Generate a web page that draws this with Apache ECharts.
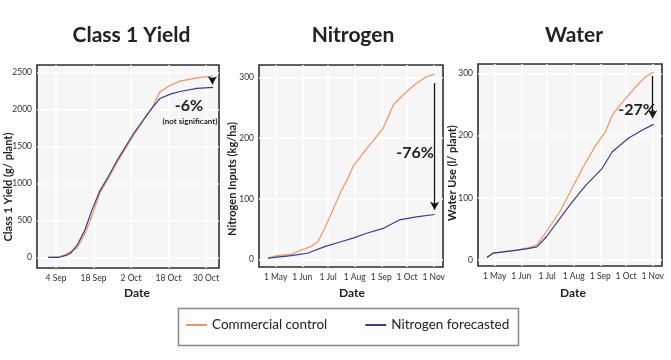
<!DOCTYPE html>
<html><head><meta charset="utf-8">
<script src="https://cdn.jsdelivr.net/npm/echarts@6/dist/echarts.min.js"></script>
<style>html,body{margin:0;padding:0;background:#fdfdfd}#c{width:671px;height:360px}</style>
</head><body><div id="c"></div>
<script>
// ---- Data ----
const seriesNames = ['Commercial control', 'Nitrogen forecasted'];
const panelTitles = ['Class 1 Yield', 'Nitrogen', 'Water'];
const yAxisNames = ['Class 1 Yield (g/ plant)', 'Nitrogen Inputs (kg/ha)', 'Water Use (l/ plant)'];

// Class 1 yield: x = sample position (ticks evenly spaced)
const yieldTickLabels = ['4 Sep', '18 Sep', '2 Oct', '18 Oct', '30 Oct'];
const yieldTickPos = [0, 1, 2, 3, 4];
const yieldX = [-0.21, 0.08, 0.27, 0.4, 0.56, 0.77, 0.96, 1.17, 1.39, 1.65, 2.05, 2.37, 2.56, 2.77, 3.05, 3.31, 3.76, 4.19];
const yieldCommercial = [0, 5, 40, 80, 125, 320, 560, 870, 1060, 1300, 1640, 1880, 2020, 2240, 2330, 2385, 2430, 2455];
const yieldForecast = [0, 0, 25, 60, 160, 370, 640, 900, 1090, 1330, 1660, 1890, 2020, 2150, 2210, 2245, 2288, 2302];
const yieldTicksY = [0, 500, 1000, 1500, 2000, 2500];

// Season axes: days since 1 May
const monthTickLabels = ['1 May', '1 Jun', '1 Jul', '1 Aug', '1 Sep', '1 Oct', '1 Nov'];
const monthTickDays = [0, 31, 61, 92, 123, 153, 184];

const nitroCommercialDays = [-9, 2, 18, 29, 41, 49, 57, 64, 76, 84, 90, 106, 125, 137, 148, 164, 176, 185];
const nitroCommercial = [2, 6, 8, 15, 21, 29, 51, 73, 112, 134, 153, 183, 216, 255, 271, 291, 302, 306];
const nitroForecastDays = [-9, 18, 37, 57, 76, 90, 106, 125, 144, 164, 185];
const nitroForecast = [2, 6, 10, 21, 29, 35, 43, 51, 65, 70, 74];
const nitroTicksY = [0, 100, 200, 300];

const waterCommercialDays = [-9, -2, 10, 26, 37, 49, 60, 76, 89, 102, 118, 129, 137, 149, 164, 176, 185];
const waterCommercial = [4, 11, 13, 16, 19, 24, 45, 78, 112, 147, 185, 206, 233, 254, 278, 295, 302];
const waterForecastDays = [-9, -2, 10, 26, 37, 49, 60, 76, 89, 106, 125, 137, 156, 172, 185];
const waterForecast = [4, 11, 13, 16, 18, 21, 37, 67, 91, 120, 147, 174, 196, 209, 218];
const waterTicksY = [0, 100, 200, 300];

const changeLabels = ['-6%', '-76%', '-27%'];

// ---- Build ----
const C_ORANGE = '#ec9563', C_BLUE = '#3d3b8e';
const FONT = 'Lato, "Open Sans", sans-serif';
const zip = (xs, ys) => xs.map((x, i) => [x, ys[i]]);

const grids = [
  {left: 37, top: 65, width: 182, height: 203},
  {left: 259, top: 65, width: 184, height: 202},
  {left: 478, top: 64, width: 184, height: 202}
].map(g => Object.assign(g, {show: true, backgroundColor: '#f6f6f6', borderColor: '#2e2e2e', borderWidth: 1.6}));

function xAxis(gi, min, max, pos, labels) {
  return {
    type: 'value', gridIndex: gi, min, max,
    axisLine: {show: false},
    axisTick: {show: false, customValues: pos},
    splitLine: {show: true, lineStyle: {color: '#ffffff', width: 1.5}},
    axisLabel: {customValues: pos, margin: 6, fontSize: 8.5, color: '#333', fontFamily: FONT,
      formatter: v => labels[pos.indexOf(v)] || ''}
  };
}
function yAxis(gi, min, max, ticks) {
  return {
    type: 'value', gridIndex: gi, min, max,
    axisLine: {show: false},
    axisTick: {show: false, customValues: ticks},
    splitLine: {show: true, lineStyle: {color: '#ffffff', width: 1.5}},
    axisLabel: {customValues: ticks, margin: 5, fontSize: 8.5, color: '#333', fontFamily: FONT,
      formatter: v => String(v)}
  };
}

function arrowLine(x, yFrom, yTo) {
  return {
    silent: true, symbol: ['none', 'arrow'], symbolSize: [7, 8],
    label: {show: false},
    lineStyle: {color: '#111', width: 1.3, type: 'solid'},
    data: [[{coord: [x, yFrom]}, {coord: [x, yTo]}]]
  };
}

function line(name, gi, data, color, markLine) {
  const s = {name, type: 'line', xAxisIndex: gi, yAxisIndex: gi, data, showSymbol: false,
    lineStyle: {color, width: 1.2}, itemStyle: {color}, smooth: false, z: color === C_BLUE ? 3 : 2};
  if (markLine) s.markLine = markLine;
  return s;
}

const lastY = a => a[a.length - 1];
const lastX = a => a[a.length - 1];

const series = [
  line(seriesNames[0], 0, zip(yieldX, yieldCommercial), C_ORANGE,
    arrowLine(lastX(yieldX) - 0.02, lastY(yieldCommercial) - 20, lastY(yieldForecast) + 40)),
  line(seriesNames[1], 0, zip(yieldX, yieldForecast), C_BLUE),
  line(seriesNames[0], 1, zip(nitroCommercialDays, nitroCommercial), C_ORANGE,
    arrowLine(lastX(nitroCommercialDays), lastY(nitroCommercial) - 15, lastY(nitroForecast) + 8)),
  line(seriesNames[1], 1, zip(nitroForecastDays, nitroForecast), C_BLUE),
  line(seriesNames[0], 2, zip(waterCommercialDays, waterCommercial), C_ORANGE,
    arrowLine(lastX(waterCommercialDays) - 1, lastY(waterCommercial) - 6, lastY(waterForecast) + 10)),
  line(seriesNames[1], 2, zip(waterForecastDays, waterForecast), C_BLUE)
];

function txt(x, y, text, size, weight, rot, align) {
  return {type: 'text', x, y, rotation: rot || 0, z: 100,
    style: {text, fontSize: size, fontWeight: weight, fontFamily: FONT, fill: '#222',
      align: align || 'center', verticalAlign: 'middle'}};
}

const option = {
  backgroundColor: '#fdfdfd',
  animation: false,
  grid: grids,
  xAxis: [
    xAxis(0, -0.507, 4.347, yieldTickPos, yieldTickLabels),
    xAxis(1, -19.4, 194.8, monthTickDays, monthTickLabels),
    xAxis(2, -19.4, 194.8, monthTickDays, monthTickLabels)
  ],
  yAxis: [
    yAxis(0, -145, 2604, yieldTicksY),
    yAxis(1, -12.7, 321, nitroTicksY),
    yAxis(2, -9.6, 315, waterTicksY)
  ],
  legend: {
    data: seriesNames, left: 186, top: 318, itemWidth: 21, itemHeight: 2, itemGap: 38,
    icon: 'rect',
    textStyle: {fontSize: 13.5, color: '#222', fontFamily: FONT},
    padding: 0
  },
  series,
  graphic: [
    {type: 'rect', shape: {x: 178.5, y: 308.5, width: 340, height: 37}, z: 50,
      style: {fill: 'none', stroke: '#8a8a8a', lineWidth: 1.5}},
    txt(131.5, 35, panelTitles[0], 21, 'bold'),
    txt(353, 35, panelTitles[1], 21, 'bold'),
    txt(574, 35, panelTitles[2], 21, 'bold'),
    txt(137, 293, 'Date', 12, 'bold'),
    txt(352, 293, 'Date', 12, 'bold'),
    txt(573, 293, 'Date', 12, 'bold'),
    txt(8, 187, yAxisNames[0], 11, 'bold', Math.PI / 2),
    txt(232.5, 179, yAxisNames[1], 11, 'bold', Math.PI / 2),
    txt(452.5, 173, yAxisNames[2], 11, 'bold', Math.PI / 2),
    txt(189, 106, changeLabels[0], 16, 'bold'),
    txt(190, 121, '(not significant)', 8, 'bold'),
    txt(415, 153, changeLabels[1], 16, 'bold'),
    txt(637, 110, changeLabels[2], 16, 'bold')
  ]
};

const chart = echarts.init(document.getElementById('c'), null, {renderer: 'canvas'});
chart.setOption(option);
</script>
</body></html>
